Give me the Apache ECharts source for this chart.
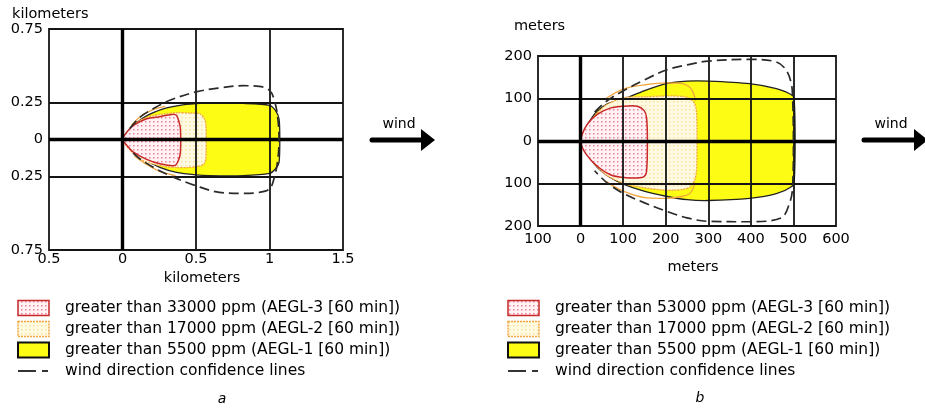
<!DOCTYPE html>
<html>
<head>
<meta charset="utf-8">
<script src="https://cdn.jsdelivr.net/npm/echarts@6.0.0/dist/echarts.min.js"></script>
<style>
html,body{margin:0;padding:0;background:#fff;}
#c{width:925px;height:410px;}
</style>
</head>
<body>
<div id="c"></div>
<script>
// ---------- Chart a (kilometers) ----------
const xTicksA = ['0.5', '0', '0.5', '1', '1.5'];
const yTicksA = ['0.75', '', '0.25', '0', '0.25', '', '0.75'];
const gridXA = [0.5, 1];
const gridYA = [0.25, -0.25];

const aegl3A_x = [0, 0.03, 0.074, 0.164, 0.254, 0.335, 0.367, 0.385, 0.394, 0.394, 0.38, 0.356, 0.254, 0.164, 0.074, 0.03];
const aegl3A_y = [0, 0.05, 0.095, 0.141, 0.155, 0.17, 0.165, 0.118, 0.073, -0.086, -0.143, -0.177, -0.165, -0.135, -0.086, -0.04];

const aegl2A_x = [0, 0.05, 0.12, 0.2, 0.3, 0.37, 0.45, 0.525, 0.555, 0.568, 0.568, 0.555, 0.525, 0.45, 0.37, 0.3, 0.2, 0.12, 0.05];
const aegl2A_y = [0, 0.07, 0.13, 0.16, 0.175, 0.182, 0.18, 0.175, 0.145, 0.1, -0.12, -0.165, -0.18, -0.19, -0.19, -0.185, -0.165, -0.135, -0.07];

const aegl1A_x = [0, 0.052, 0.131, 0.209, 0.30, 0.39, 0.50, 0.59, 0.82, 1.0, 1.04, 1.065, 1.07, 1.065, 1.04, 1.0, 0.82, 0.59, 0.5, 0.367, 0.254, 0.164, 0.074];
const aegl1A_y = [0, 0.073, 0.141, 0.182, 0.214, 0.232, 0.243, 0.248, 0.245, 0.232, 0.198, 0.141, 0.0, -0.155, -0.2, -0.23, -0.245, -0.245, -0.24, -0.223, -0.189, -0.143, -0.075];

const confA_x = [0.05, 0.12, 0.209, 0.322, 0.5, 0.66, 0.82, 0.93, 1.0, 1.03, 1.054, 1.065, 1.054, 1.03, 1.0, 0.93, 0.82, 0.66, 0.5, 0.322, 0.209, 0.12, 0.05];
const confA_y = [0.075, 0.152, 0.209, 0.266, 0.323, 0.35, 0.365, 0.36, 0.334, 0.277, 0.164, 0, -0.155, -0.268, -0.336, -0.359, -0.366, -0.359, -0.314, -0.245, -0.189, -0.132, -0.07];

const edge2TopA_x = [0.06, 0.12, 0.2, 0.29];
const edge2TopA_y = [0.095, 0.155, 0.2, 0.225];
const edge2BotA_x = [0.08, 0.15, 0.25, 0.36];
const edge2BotA_y = [-0.11, -0.16, -0.215, -0.245];

// ---------- Chart b (meters) ----------
const xTicksB = ['100', '0', '100', '200', '300', '400', '500', '600'];
const yTicksB = ['200', '100', '0', '100', '200'];
const gridXB = [100, 200, 300, 400, 500];
const gridYB = [100, -100];

const aegl3B_x = [0, 13, 40, 71, 102, 133, 149, 155, 157, 155, 149, 133, 102, 71, 40, 13];
const aegl3B_y = [0, 35, 63, 78, 82, 82, 72, 55, 0, -72, -84, -87, -86, -80, -60, -31];

const aegl2B_x = [0, 30, 60, 102, 150, 203, 240, 257, 269, 273, 273, 269, 257, 240, 203, 150, 102, 60, 30];
const aegl2B_y = [0, 55, 85, 102, 104, 106, 105, 100, 86, 60, -60, -90, -108, -114, -116, -110, -100, -80, -50];

const aegl1B_x = [0, 33, 64, 102, 149, 201, 250, 300, 397, 460, 498, 502, 504, 502, 498, 460, 397, 300, 250, 201, 149, 102, 64, 33];
const aegl1B_y = [0, 64, 88, 99, 118, 135, 141, 141, 135, 123, 107, 96, 0, -94, -106, -124, -135, -140, -138, -130, -118, -102, -82, -55];

const confB_x = [33, 64, 102, 149, 201, 250, 300, 397, 460, 483, 495, 498, 500, 498, 490, 471, 397, 300, 250, 201, 149, 102, 64, 33];
const confB_y = [68, 96, 119, 143, 167, 179, 188, 192, 186, 167, 135, 104, 0, -110, -149, -181, -190, -189, -181, -165, -145, -124, -100, -70];

const edge2TopB_x = [60, 100, 150, 200, 240, 258, 266, 270];
const edge2TopB_y = [100, 122, 132, 137, 135, 125, 110, 95];
const edge2BotB_x = [60, 100, 157, 201, 240, 258, 269];
const edge2BotB_y = [-95, -118, -134, -135, -130, -122, -98];

// ---------- Legend texts ----------
const legendA = ['greater than 33000 ppm (AEGL-3 [60 min])', 'greater than 17000 ppm (AEGL-2 [60 min])', 'greater than 5500 ppm (AEGL-1 [60 min])', 'wind direction confidence lines'];
const legendB = ['greater than 53000 ppm (AEGL-3 [60 min])', 'greater than 17000 ppm (AEGL-2 [60 min])', 'greater than 5500 ppm (AEGL-1 [60 min])', 'wind direction confidence lines'];

// ---------- patterns ----------
function makePattern(bg, dot, sx, sy) {
  const c = document.createElement('canvas');
  c.width = sx; c.height = sy;
  const g = c.getContext('2d');
  g.fillStyle = bg; g.fillRect(0, 0, sx, sy);
  g.fillStyle = dot; g.fillRect(1, 1, 1.5, 1.5);
  return c;
}
const pinkCanvas = makePattern('#fff2f5', '#ee8098', 4, 4);
const creamCanvas = makePattern('#fffae2', '#f8e2a0', 4, 4);
const pinkFill = { image: pinkCanvas, repeat: 'repeat' };
const creamFill = { image: creamCanvas, repeat: 'repeat' };

const FONT = 'DejaVu Sans';
const YELLOW = '#fcfc14';
const ORANGE = '#f2a640';

function zip(xs, ys) { return xs.map((x, i) => [x, ys[i]]); }

function polySeries(xs, ys, gi, style, z) {
  const data = zip(xs, ys);
  return {
    type: 'custom', xAxisIndex: gi, yAxisIndex: gi, z: z, silent: true,
    data: data,
    renderItem: function (params, api) {
      if (params.dataIndex !== 0) return null;
      const pts = data.map(p => api.coord(p));
      return { type: 'polygon', shape: { points: pts, smooth: 0.25 }, style: style };
    }
  };
}

function lineSeries(xs, ys, gi, color, width, dash, z) {
  return {
    type: 'line', xAxisIndex: gi, yAxisIndex: gi, z: z, silent: true,
    data: zip(xs, ys), showSymbol: false, symbol: 'none', smooth: 0.35,
    lineStyle: { color: color, width: width, type: dash }
  };
}

function gridLines(gi, gx, gy) {
  const d = [];
  gx.forEach(v => d.push({ xAxis: v }));
  gy.forEach(v => d.push({ yAxis: v }));
  d.push({ xAxis: 0, lineStyle: { width: 3.4, color: '#000' } });
  d.push({ yAxis: 0, lineStyle: { width: 3.4, color: '#000' } });
  return {
    type: 'line', xAxisIndex: gi, yAxisIndex: gi, z: 5, silent: true,
    data: [[0, 0]], showSymbol: false, symbol: 'none', lineStyle: { width: 0 },
    markLine: {
      silent: true, symbol: 'none', animation: false,
      label: { show: false },
      lineStyle: { color: '#151515', width: 1.8, type: 'solid' },
      emphasis: { disabled: true },
      data: d
    }
  };
}

const series = [
  polySeries(aegl1A_x, aegl1A_y, 0, { fill: YELLOW, stroke: '#222', lineWidth: 1.3 }, 2),
  polySeries(aegl2A_x, aegl2A_y, 0, { fill: creamFill, stroke: ORANGE, lineWidth: 1.3, lineDash: [2, 1] }, 3),
  polySeries(aegl3A_x, aegl3A_y, 0, { fill: pinkFill, stroke: '#c82828', lineWidth: 1.5 }, 4),
  lineSeries(edge2TopA_x, edge2TopA_y, 0, ORANGE, 1.3, 'solid', 4),
  lineSeries(edge2BotA_x, edge2BotA_y, 0, ORANGE, 1.3, 'solid', 4),
  gridLines(0, gridXA, gridYA),
  lineSeries(confA_x, confA_y, 0, '#2a2a2a', 1.7, [10, 5], 6),

  polySeries(aegl1B_x, aegl1B_y, 1, { fill: YELLOW, stroke: '#222', lineWidth: 1.3 }, 2),
  polySeries(aegl2B_x, aegl2B_y, 1, { fill: creamFill, stroke: ORANGE, lineWidth: 1.3, lineDash: [2, 1] }, 3),
  polySeries(aegl3B_x, aegl3B_y, 1, { fill: pinkFill, stroke: '#c82828', lineWidth: 1.5 }, 4),
  lineSeries(edge2TopB_x, edge2TopB_y, 1, ORANGE, 1.3, 'solid', 4),
  lineSeries(edge2BotB_x, edge2BotB_y, 1, ORANGE, 1.3, 'solid', 4),
  gridLines(1, gridXB, gridYB),
  lineSeries(confB_x, confB_y, 1, '#2a2a2a', 1.7, [10, 5], 6)
];

const labelBase = { color: '#000', fontFamily: FONT, fontSize: 14.5 };

const option = {
  animation: false,
  grid: [
    { left: 49, top: 29, width: 294, height: 221, show: true, borderColor: '#151515', borderWidth: 1.8, backgroundColor: 'transparent' },
    { left: 538, top: 56, width: 298, height: 170, show: true, borderColor: '#151515', borderWidth: 1.8, backgroundColor: 'transparent' }
  ],
  xAxis: [
    { type: 'value', gridIndex: 0, min: -0.5, max: 1.5, interval: 0.5,
      axisLine: { show: false }, axisTick: { show: false }, splitLine: { show: false },
      axisLabel: Object.assign({ margin: 2, formatter: (v, i) => xTicksA[i] }, labelBase) },
    { type: 'value', gridIndex: 1, min: -100, max: 600, interval: 100,
      axisLine: { show: false }, axisTick: { show: false }, splitLine: { show: false },
      axisLabel: Object.assign({ margin: 6, formatter: (v, i) => xTicksB[i] }, labelBase) }
  ],
  yAxis: [
    { type: 'value', gridIndex: 0, min: -0.75, max: 0.75, interval: 0.25,
      axisLine: { show: false }, axisTick: { show: false }, splitLine: { show: false },
      axisLabel: Object.assign({ margin: 6, formatter: (v, i) => yTicksA[i] }, labelBase) },
    { type: 'value', gridIndex: 1, min: -200, max: 200, interval: 100,
      axisLine: { show: false }, axisTick: { show: false }, splitLine: { show: false },
      axisLabel: Object.assign({ margin: 6, formatter: (v, i) => yTicksB[i] }, labelBase) }
  ],
  series: series,
  graphic: []
};

// axis titles, wind arrows, captions, legends
const G = option.graphic;
function txt(x, y, s, opts) {
  G.push({ type: 'text', x: x, y: y, style: Object.assign({ text: s, fill: '#000', font: '14.5px "' + FONT + '"', textAlign: 'left', textVerticalAlign: 'middle' }, opts || {}) });
}
txt(12, 14, 'kilometers');
txt(202, 278, 'kilometers', { textAlign: 'center' });
txt(514, 26, 'meters');
txt(693, 267, 'meters', { textAlign: 'center' });

function arrow(x0, x1, y, label, lx) {
  G.push({ type: 'line', shape: { x1: x0, y1: y, x2: x1 - 10, y2: y }, style: { stroke: '#000', lineWidth: 5, lineCap: 'round' } });
  G.push({ type: 'polygon', shape: { points: [[x1 - 14, y - 11], [x1, y], [x1 - 14, y + 11]] }, style: { fill: '#000' } });
  txt(lx, y - 16, label, { textAlign: 'center', font: '14px "' + FONT + '"' });
}
arrow(372, 435, 140, 'wind', 399);
arrow(864, 928, 140, 'wind', 891);

txt(222, 399, 'a', { textAlign: 'center', font: 'italic 14px "' + FONT + '"' });
txt(700, 398, 'b', { textAlign: 'center', font: 'italic 14px "' + FONT + '"' });

function legend(sx, tx, items) {
  const rows = [308, 329, 350, 371];
  G.push({ type: 'rect', shape: { x: sx, y: rows[0] - 7.5, width: 31, height: 15 }, style: { fill: pinkFill, stroke: '#c82828', lineWidth: 1.5 } });
  G.push({ type: 'rect', shape: { x: sx, y: rows[1] - 7.5, width: 31, height: 15 }, style: { fill: creamFill, stroke: ORANGE, lineWidth: 1.5, lineDash: [2, 1] } });
  G.push({ type: 'rect', shape: { x: sx, y: rows[2] - 7.5, width: 31, height: 15 }, style: { fill: YELLOW, stroke: '#111', lineWidth: 2 } });
  G.push({ type: 'line', shape: { x1: sx, y1: rows[3], x2: sx + 18, y2: rows[3] }, style: { stroke: '#333', lineWidth: 2 } });
  G.push({ type: 'line', shape: { x1: sx + 24, y1: rows[3], x2: sx + 30, y2: rows[3] }, style: { stroke: '#333', lineWidth: 2 } });
  items.forEach((s, i) => txt(tx, rows[i], s, { font: '15.5px "' + FONT + '"' }));
}
legend(18, 65, legendA);
legend(508, 555, legendB);

const chart = echarts.init(document.getElementById('c'), null, { renderer: 'canvas' });
chart.setOption(option);
</script>
</body>
</html>
